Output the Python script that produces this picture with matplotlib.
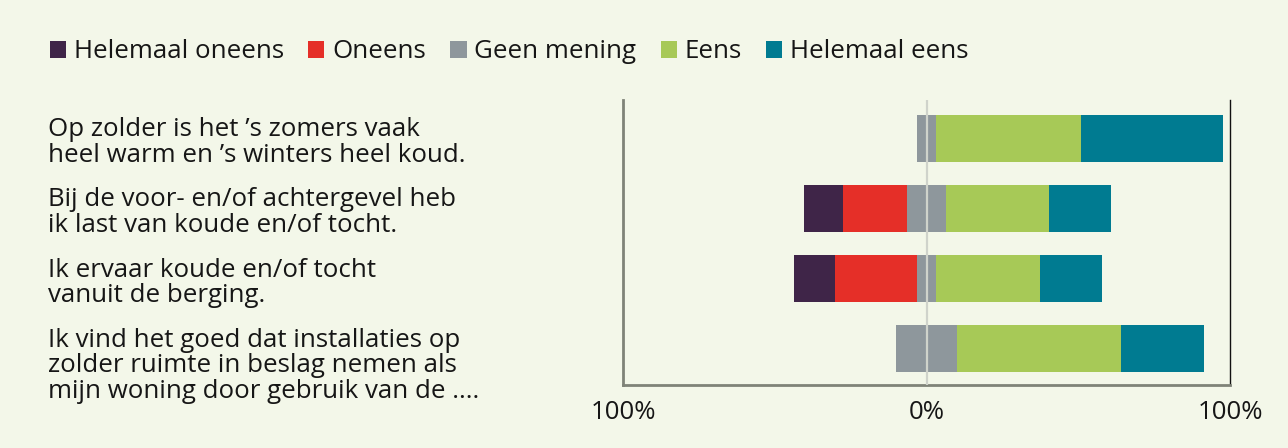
import numpy as np
import matplotlib
matplotlib.use("Agg")
import matplotlib.pyplot as plt
from matplotlib.patches import Patch
from matplotlib.transforms import blended_transform_factory

plt.rcParams['font.family'] = ['Open Sans', 'DejaVu Sans']

# data (percentages per answer)
statements = [
    "Op zolder is het \u2019s zomers vaak\nheel warm en \u2019s winters heel koud.",
    "Bij de voor- en/of achtergevel heb\nik last van koude en/of tocht.",
    "Ik ervaar koude en/of tocht\nvanuit de berging.",
    "Ik vind het goed dat installaties op\nzolder ruimte in beslag nemen als\nmijn woning door gebruik van de ....",
]
categories = ["Helemaal oneens", "Oneens", "Geen mening", "Eens", "Helemaal eens"]
helemaal_oneens = [0, 13, 13.5, 0]
oneens = [0, 21, 27, 0]
geen_mening = [6.2, 13, 6.5, 20]
eens = [47.7, 34, 34, 54]
helemaal_eens = [47, 20.3, 20.4, 27.3]
tick_vals = [-100, 0, 100]
tick_labels = ["100%", "0%", "100%"]

colors = ["#3f2548", "#e52f28", "#8e979c", "#a7c957", "#007b91"]
bg = "#f3f7e9"
txt = "#161616"
fs = 18.6

fig = plt.figure(figsize=(12.88, 4.48), dpi=100, facecolor=bg)
ax = fig.add_axes([0.4837, 0.1406, 0.4713, 0.6364], facecolor=bg)

y = np.arange(len(statements))
h = 0.67
gm = np.array(geen_mening)
ho = np.array(helemaal_oneens)
on = np.array(oneens)
ee = np.array(eens)
he = np.array(helemaal_eens)

# negative side
ax.barh(y, -on, left=-gm / 2, height=h, color=colors[1], linewidth=0)
ax.barh(y, -ho, left=-gm / 2 - on, height=h, color=colors[0], linewidth=0)
# neutral centred on zero
ax.barh(y, gm, left=-gm / 2, height=h, color=colors[2], linewidth=0)
# positive side
ax.barh(y, ee, left=gm / 2, height=h, color=colors[3], linewidth=0)
ax.barh(y, he, left=gm / 2 + ee, height=h, color=colors[4], linewidth=0)

ax.axvline(0, color="#cfd3cb", linewidth=1.6, zorder=5)

ax.set_xlim(-100, 100)
ax.set_ylim(3.52, -0.55)
ax.set_xticks(tick_vals)
ax.set_xticklabels(tick_labels, fontsize=fs, color=txt)
ax.tick_params(axis='x', length=0, pad=11)
ax.set_yticks([])

ax.spines['top'].set_visible(False)
ax.spines['left'].set_color("#7f8378")
ax.spines['left'].set_linewidth(2)
ax.spines['bottom'].set_color("#7f8378")
ax.spines['bottom'].set_linewidth(2)
ax.spines['right'].set_color("#111111")
ax.spines['right'].set_linewidth(1)

# statement labels, top aligned with bar tops
trans = blended_transform_factory(fig.transFigure, ax.transData)
for i, s in enumerate(statements):
    fig.text(48 / 1288, i - h / 2 + 0.035, s, transform=trans, ha='left', va='top',
             fontsize=fs, color=txt, linespacing=1.03)

handles = [Patch(facecolor=c, edgecolor='none') for c in colors]
fig.legend(handles, categories, loc='center left', bbox_to_anchor=(50 / 1288, 1 - 52 / 448),
           ncol=5, frameon=False, fontsize=fs, handlelength=0.62, handleheight=0.62,
           handletextpad=0.3, columnspacing=0.95, labelcolor=txt, borderpad=0,
           borderaxespad=0)

fig.savefig("out.png", dpi=100, facecolor=bg)
